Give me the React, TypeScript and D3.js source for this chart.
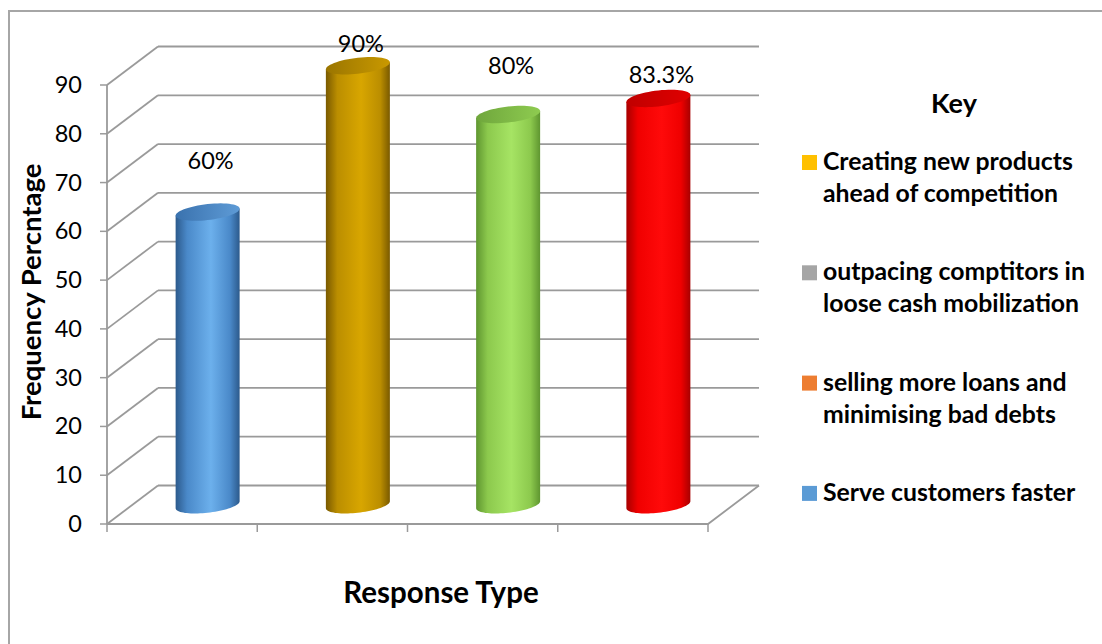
import React from "react";
import * as d3 from "d3";

// ---- data ----
const categories = ["Serve customers faster", "Creating new products ahead of competition", "selling more loans and minimising bad debts", "outpacing comptitors in loose cash mobilization"];
const values = [60, 90, 80, 83.3];
const valueLabels = ["60%", "90%", "80%", "83.3%"];
const yTicks = [0, 10, 20, 30, 40, 50, 60, 70, 80, 90];
const legendItems = [
  ["Creating new products", "ahead of competition"],
  ["outpacing comptitors in", "loose cash mobilization"],
  ["selling more loans and", "minimising bad debts"],
  ["Serve customers faster"],
];
const legendColors = ["#ffc000", "#a5a5a5", "#ed7d31", "#5b9bd5"];

// ---- styles / layout ----
const W = 1102, H = 644;
const FONT = "Lato, 'Open Sans', sans-serif";
const GRID = "#9a9a9a";
const DX = 51, DY = -38.5; // depth offset of the back wall
const LABEL_LIFT = [49, 20, 46, 21];
const cylColors = [
  { dark: "#2c5a8c", mid: "#4a89c9", light: "#6cb0ec", topA: "#3a72ae", topB: "#5e9bd6" },
  { dark: "#7a5a00", mid: "#bb8e00", light: "#d8a600", topA: "#9a7500", topB: "#c99900" },
  { dark: "#5f9630", mid: "#8cc94d", light: "#a6e464", topA: "#6fa63c", topB: "#8ecb50" },
  { dark: "#a80000", mid: "#f00000", light: "#ff0a0a", topA: "#c00000", topB: "#e00000" },
];

const x = d3.scaleBand<number>().domain(d3.range(values.length)).range([107, 708]);
const y = d3.scaleLinear().domain([0, 90]).range([524, 85]);

function ellipsePts(cx: number, cy: number, rx: number, ry: number, sh: number, t0: number, t1: number, n = 40) {
  return d3.range(n + 1).map((i) => {
    const t = t0 + ((t1 - t0) * i) / n;
    return [cx + rx * Math.cos(t), cy + ry * Math.sin(t) - sh * Math.cos(t)] as [number, number];
  });
}

export default function App() {
  const line = d3.line();
  const rx = x.bandwidth() * 0.213;
  const ry = 8;
  const sh = 3.5;
  return (
    <svg width={W} height={H} style={{ position: "absolute", left: 0, top: 0, background: "#fff" }} fontFamily={FONT}>
      <defs>
        {cylColors.map((c, i) => (
          <g key={i}>
            <linearGradient id={`body${i}`} x1="0" x2="1" y1="0" y2="0">
              <stop offset="0" stopColor={c.dark} />
              <stop offset="0.18" stopColor={c.mid} />
              <stop offset="0.55" stopColor={c.light} />
              <stop offset="0.85" stopColor={c.mid} />
              <stop offset="1" stopColor={c.dark} />
            </linearGradient>
            <linearGradient id={`top${i}`} x1="0" x2="1" y1="0" y2="0">
              <stop offset="0" stopColor={c.topA} />
              <stop offset="1" stopColor={c.topB} />
            </linearGradient>
          </g>
        ))}
      </defs>
      <rect x={0} y={0} width={W} height={H} fill="#fff" />
      {/* outer border */}
      <path d={`M9,${H} V11 H${W}`} fill="none" stroke="#a6a6a6" strokeWidth={2} />

      {/* walls gridlines */}
      {yTicks.map((t) => (
        <g key={t}>
          <line x1={107} y1={y(t)} x2={107 + DX} y2={y(t) + DY} stroke={GRID} strokeWidth={1.8} />
          <line x1={107 + DX} y1={y(t) + DY} x2={708 + DX} y2={y(t) + DY} stroke={GRID} strokeWidth={1.8} />
          <line x1={100} y1={y(t)} x2={107} y2={y(t)} stroke={GRID} strokeWidth={1.5} />
          <text x={82} y={y(t) + 2} textAnchor="end" dominantBaseline="middle" fontSize={23.5} fill="#000">{t}</text>
        </g>
      ))}
      {/* floor */}
      <path d={`M107,${y(0)} L708,${y(0)} L${708 + DX},${y(0) + DY}`} fill="none" stroke={GRID} strokeWidth={1.8} />
      <line x1={107} y1={y(90)} x2={107} y2={y(0)} stroke={GRID} strokeWidth={1.8} />
      {d3.range(values.length + 1).map((i) => {
        const xx = i < values.length ? (x(i) as number) : 708;
        return <line key={i} x1={xx} y1={y(0)} x2={xx} y2={y(0) + 8} stroke={GRID} strokeWidth={1.5} />;
      })}

      {/* cylinders */}
      {values.map((v, i) => {
        const cx = (x(i) as number) + x.bandwidth() / 2 + DX / 2;
        const base = y(0) + DY / 2;
        const top = y(v) + DY / 2;
        const bottomArc = ellipsePts(cx, base, rx, ry, sh, Math.PI, 0);
        const body =
          `M${cx - rx},${top + sh} L${cx - rx},${base + sh} ` +
          (line(bottomArc) as string).replace(/^M/, "L") +
          ` L${cx + rx},${top - sh} Z`;
        const topE = line(ellipsePts(cx, top, rx, ry, sh, 0, Math.PI * 2, 60)) + "Z";
        return (
          <g key={i}>
            <path d={body} fill={`url(#body${i})`} />
            <path d={topE} fill={`url(#top${i})`} />
            <text x={cx + 3} y={top - LABEL_LIFT[i]} textAnchor="middle" dominantBaseline="middle" fontSize={23.5} fill="#000">
              {valueLabels[i]}
            </text>
          </g>
        );
      })}

      {/* axis titles */}
      <text transform="translate(41,292) rotate(-90)" textAnchor="middle" fontSize={27.5} fontWeight="bold" fill="#000">
        Frequency Percntage
      </text>
      <text x={441} y={603} textAnchor="middle" fontSize={29.5} fontWeight="bold" fill="#000">
        Response Type
      </text>

      {/* legend */}
      <text x={954} y={113} textAnchor="middle" fontSize={27} fontWeight="bold" fill="#000">Key</text>
      {legendItems.map((lines, i) => {
        const b = 170 + i * 110.3;
        return (
          <g key={i}>
            <rect x={802} y={b - 15} width={15} height={15} fill={legendColors[i]} />
            {lines.map((l, j) => (
              <text key={j} x={823} y={b + j * 32} fontSize={24.8} fontWeight="bold" fill="#000">{l}</text>
            ))}
          </g>
        );
      })}
    </svg>
  );
}
